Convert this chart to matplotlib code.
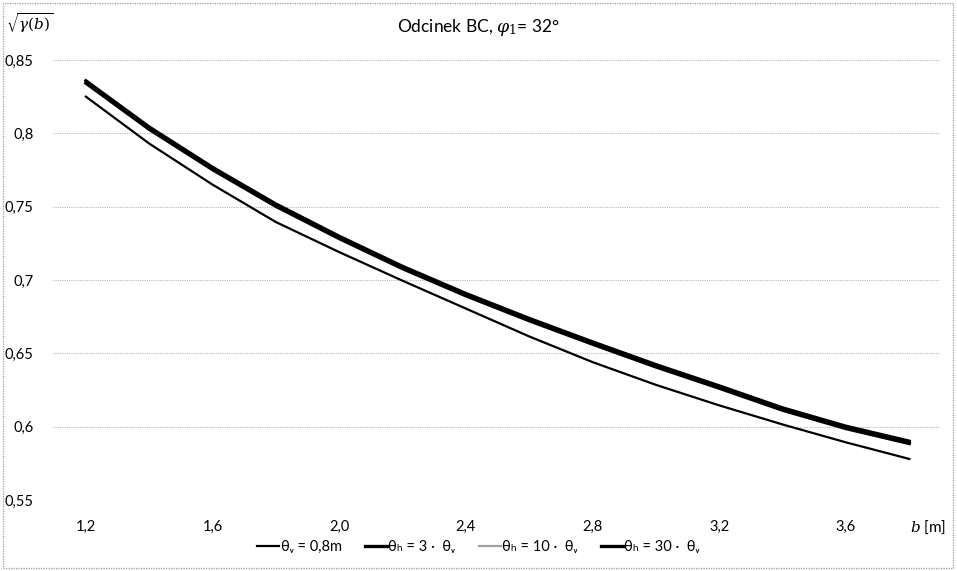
import matplotlib
matplotlib.use("Agg")
import matplotlib.pyplot as plt
from matplotlib.patches import Rectangle

plt.rcParams['font.family'] = ['Lato', 'DejaVu Sans']
plt.rcParams['mathtext.fontset'] = 'dejavuserif'

# data
b = [1.2, 1.4, 1.6, 1.8, 2.0, 2.2, 2.4, 2.6, 2.8, 3.0, 3.2, 3.4, 3.6, 3.8]
gamma_v08 = [0.825, 0.793, 0.765, 0.7395, 0.719, 0.6995, 0.6805, 0.6615,
             0.644, 0.6285, 0.6145, 0.6015, 0.5893, 0.578]
gamma_h3 = [0.8342, 0.8027, 0.7752, 0.7502, 0.7282, 0.7077, 0.6892, 0.6722,
            0.6562, 0.6407, 0.6262, 0.6112, 0.5987, 0.5885]
gamma_h10 = [0.835, 0.8035, 0.776, 0.751, 0.729, 0.7085, 0.690, 0.673,
             0.657, 0.6415, 0.627, 0.612, 0.5995, 0.5893]
gamma_h30 = [0.8358, 0.8043, 0.7768, 0.7518, 0.7298, 0.7093, 0.6908, 0.6738,
             0.6578, 0.6423, 0.6278, 0.6128, 0.6003, 0.5901]

xticks = [1.2, 1.6, 2.0, 2.4, 2.8, 3.2, 3.6]
xtick_labels = ['1,2', '1,6', '2,0', '2,4', '2,8', '3,2', '3,6']
yticks = [0.55, 0.6, 0.65, 0.7, 0.75, 0.8, 0.85]
ytick_labels = ['0,55', '0,6', '0,65', '0,7', '0,75', '0,8', '0,85']

labels = ['θᵥ = 0,8m', 'θₕ = 3 ·  θᵥ', 'θₕ = 10 ·  θᵥ', 'θₕ = 30 ·  θᵥ']

fig = plt.figure(figsize=(9.57, 5.71), dpi=100)
ax = fig.add_axes([53/957, 1 - 500/571, 887/957, 440/571])

l1, = ax.plot(b, gamma_v08, color='black', lw=1.6)
l3, = ax.plot(b, gamma_h10, color='#a0a0a0', lw=1.6)
l2, = ax.plot(b, gamma_h3, color='black', lw=2.4)
l4, = ax.plot(b, gamma_h30, color='black', lw=2.4)

ax.set_xlim(1.096, 3.897)
ax.set_ylim(0.55, 0.85)
ax.set_xticks(xticks)
ax.set_xticklabels(xtick_labels)
ax.set_yticks(yticks)
ax.set_yticklabels(ytick_labels)
ax.tick_params(length=0, labelsize=10.5, pad=14)
ax.tick_params(axis='x', pad=14)
ax.grid(axis='y', color='#b8b8b8', linestyle=(0, (1, 1)), linewidth=0.8)
for s in ax.spines.values():
    s.set_visible(False)

fig.text(478/957, 1 - 28/571, 'Odcinek BC, $\\varphi_1$= 32°', ha='center', va='center',
         fontsize=12.5)
fig.text(6/957, 1 - 23/571, r'$\sqrt{\gamma(b)}$', ha='left', va='center', fontsize=11)
fig.text(946/957, 1 - 527/571, '$b$ [m]', ha='right', va='center', fontsize=11)

fig.legend([l1, l2, l3, l4], labels, loc='center', bbox_to_anchor=(0.5, 1 - 547/571),
           ncol=4, frameon=False, fontsize=10.5, handlelength=1.5, handletextpad=0.1,
           columnspacing=1.6)

fig.patches.append(Rectangle((3/957, 3/571), 950/957, 565/571, transform=fig.transFigure,
                             fill=False, edgecolor='#9a9a9a', lw=0.9, linestyle=(0, (1, 1))))

fig.savefig('out.png', dpi=100)
